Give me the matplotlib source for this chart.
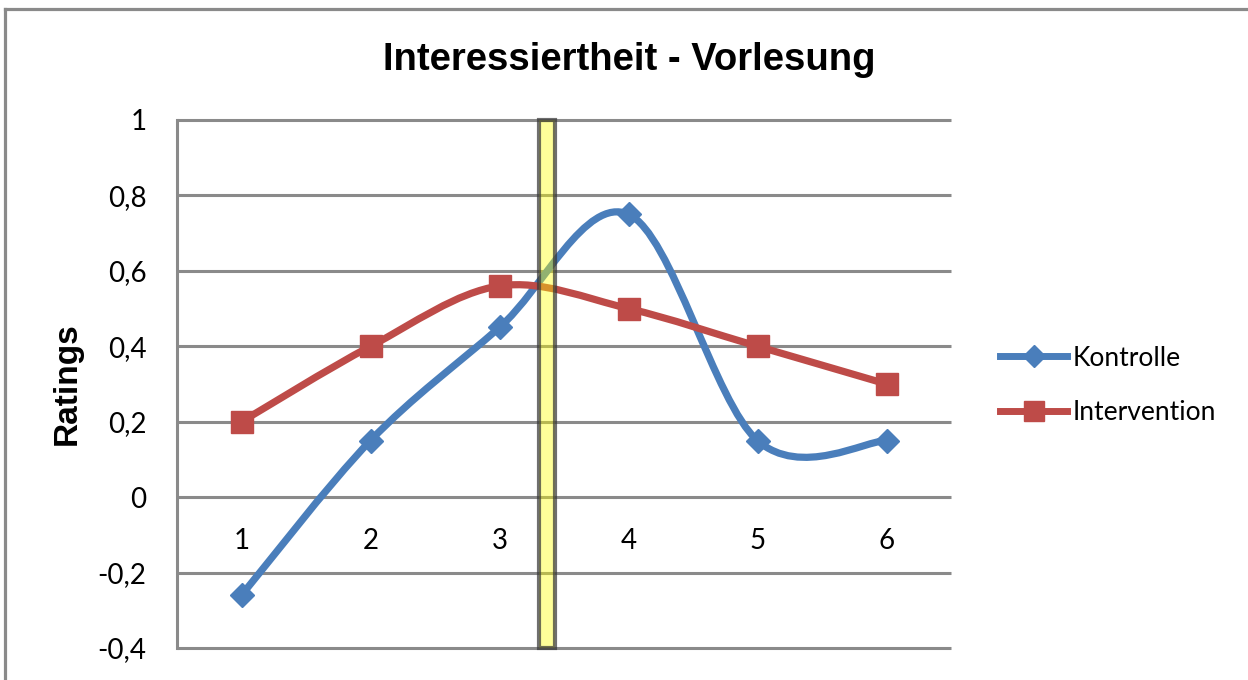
import numpy as np
import matplotlib
matplotlib.use("Agg")
import matplotlib.pyplot as plt
from matplotlib.path import Path
from matplotlib.patches import PathPatch, Rectangle
from matplotlib.lines import Line2D

# --- data ---------------------------------------------------------------
categories = [1, 2, 3, 4, 5, 6]
kontrolle = [-0.26, 0.15, 0.45, 0.75, 0.15, 0.15]
intervention = [0.20, 0.40, 0.56, 0.50, 0.40, 0.30]
series_names = ["Kontrolle", "Intervention"]
y_ticks = [-0.4, -0.2, 0.0, 0.2, 0.4, 0.6, 0.8, 1.0]
y_tick_labels = ["-0,4", "-0,2", "0", "0,2", "0,4", "0,6", "0,8", "1"]
phase_boundary = 3.37   # position of the highlighted separator between sessions 3 and 4

title = "Interessiertheit - Vorlesung"
y_label = "Ratings"

BLUE = "#4A7EBB"
RED = "#BE4B48"
GRID = "#8A8A8A"


def smooth_path(x, y):
    """Smoothed curve through the points (Catmull-Rom style Bezier segments)."""
    pts = np.column_stack([x, y]).astype(float)
    ext = np.vstack([pts[0], pts, pts[-1]])
    verts = [pts[0]]
    codes = [Path.MOVETO]
    for i in range(len(pts) - 1):
        p0, p1, p2, p3 = ext[i], ext[i + 1], ext[i + 2], ext[i + 3]
        c1 = p1 + (p2 - p0) / 6.0
        c2 = p2 - (p3 - p1) / 6.0
        verts += [c1, c2, p2]
        codes += [Path.CURVE4] * 3
    return Path(verts, codes)


W, H = 1248, 680
fig = plt.figure(figsize=(W / 100, H / 100), dpi=100)
fig.patch.set_facecolor("white")

# chart frame (top and left edges visible)
fig.add_artist(Line2D([5 / W, 1.0], [1 - 9 / H, 1 - 9 / H], transform=fig.transFigure,
                      color=GRID, lw=2.3, solid_capstyle="projecting"))
fig.add_artist(Line2D([5 / W, 5 / W], [0.0, 1 - 9 / H], transform=fig.transFigure,
                      color=GRID, lw=2.3, solid_capstyle="projecting"))

ax = fig.add_axes([177 / W, 32 / H, 774 / W, 528 / H])
ax.set_xlim(0.5, len(categories) + 0.5)
ax.set_ylim(y_ticks[0], y_ticks[-1])

# horizontal gridlines
ax.hlines(y_ticks, 0.5, len(categories) + 0.5, colors=GRID, lw=2.2, zorder=1, clip_on=False)

for side in ("top", "right"):
    ax.spines[side].set_visible(False)
ax.spines["left"].set_color(GRID)
ax.spines["left"].set_linewidth(2.2)
ax.spines["bottom"].set_position(("data", 0))
ax.spines["bottom"].set_visible(False)

ax.set_yticks(y_ticks)
ax.set_yticklabels(y_tick_labels)
ax.set_xticks(categories)
ax.set_xticklabels([str(c) for c in categories])
ax.tick_params(axis="y", length=0, pad=22, labelsize=20)
ax.tick_params(axis="x", length=0, pad=22, labelsize=20)
for lab in ax.get_xticklabels() + ax.get_yticklabels():
    lab.set_fontfamily("Lato")

# smoothed series lines
for vals, col in ((kontrolle, BLUE), (intervention, RED)):
    ax.add_patch(PathPatch(smooth_path(categories, vals), facecolor="none", edgecolor=col,
                           lw=5.2, capstyle="round", joinstyle="round", zorder=3))

ax.plot(categories, kontrolle, linestyle="none", marker="D", markersize=12.5,
        color=BLUE, zorder=4)
ax.plot(categories, intervention, linestyle="none", marker="s", markersize=16.5,
        color=RED, zorder=4)

# highlighted separator bar
ax.add_patch(Rectangle((phase_boundary - 0.062, y_ticks[0]), 0.124, y_ticks[-1] - y_ticks[0],
                       facecolor=(1.0, 1.0, 0.0, 0.4), edgecolor=(0.22, 0.22, 0.22, 0.72),
                       lw=3.0, zorder=5, clip_on=False))

# titles
fig.text(629 / W, 1 - 70 / H, title, ha="center", va="baseline",
         fontsize=27.5, fontweight="bold", family="Liberation Sans")
fig.text(67 / W, 1 - 384 / H, y_label, ha="center", va="center", rotation=90,
         fontsize=24, fontweight="bold", family="Liberation Sans")

# legend
handles = [
    Line2D([], [], color=BLUE, lw=5, marker="D", markersize=11),
    Line2D([], [], color=RED, lw=5, marker="s", markersize=14),
]
fig.legend(handles, series_names, loc="center left", bbox_to_anchor=(1000 / W, 1 - 385.5 / H),
           frameon=False, borderpad=0, borderaxespad=0, handlelength=2.55, handletextpad=0.2,
           labelspacing=1.12, prop={"family": "Lato", "size": 19})

fig.savefig("out.png", dpi=100)
